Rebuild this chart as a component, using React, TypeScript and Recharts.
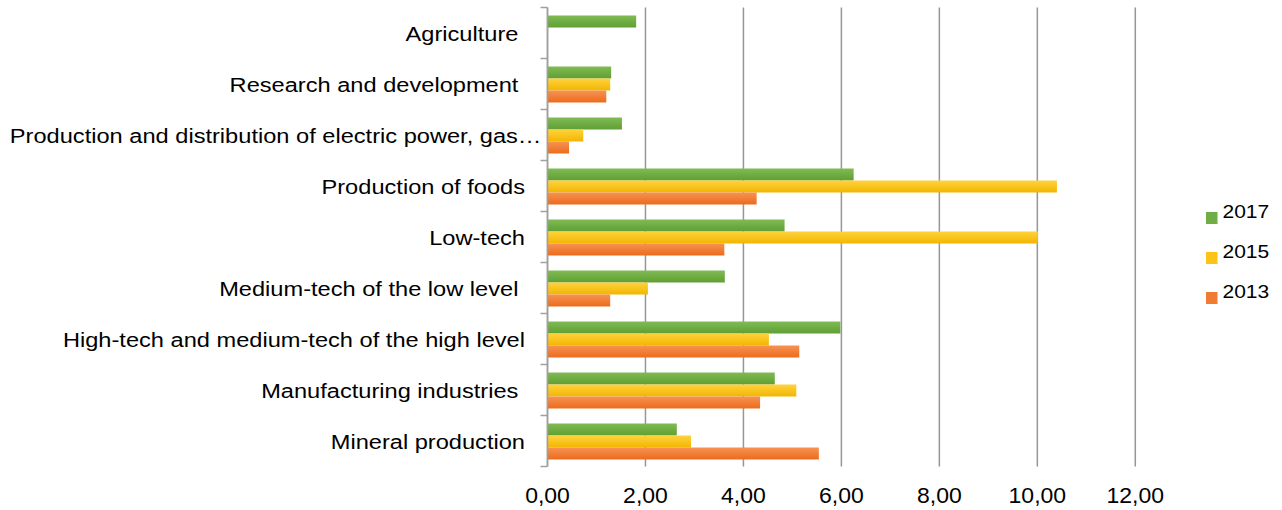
import React from "react"
import {
  BarChart,
  Bar,
  XAxis,
  YAxis,
  CartesianGrid,
} from "recharts"

const categories = [
  "Agriculture ",
  "Research and development ",
  "Production and distribution of electric power, gas…",
  "Production of foods",
  "Low-tech",
  "Medium-tech of the low level ",
  "High-tech and medium-tech of the high level",
  "Manufacturing industries ",
  "Mineral production",
]

const values2017 = [1.81, 1.3, 1.52, 6.25, 4.84, 3.62, 5.98, 4.64, 2.64]
const values2015 = [null, 1.28, 0.73, 10.4, 10.01, 2.05, 4.52, 5.08, 2.93]
const values2013 = [null, 1.2, 0.44, 4.27, 3.61, 1.28, 5.14, 4.34, 5.54]

const xTicks = [0, 2, 4, 6, 8, 10, 12]

const series = [
  { key: "y2017", name: "2017", top: "#80bb53", bottom: "#5f9f34", swatch: "#6fae45" },
  { key: "y2015", name: "2015", top: "#ffd23e", bottom: "#f2b600", swatch: "#fcc419" },
  { key: "y2013", name: "2013", top: "#f79253", bottom: "#eb6c1c", swatch: "#f07b32" },
]

const data = categories.map((name, i) => ({
  name,
  y2017: values2017[i],
  y2015: values2015[i],
  y2013: values2013[i],
}))

const FONT = "'Liberation Sans', Arial, sans-serif"
const AXIS_GRAY = "#a0a0a0"

function CategoryTick(props: any) {
  const { x, y, payload, index } = props
  const half = payload?.offset ?? 25.5
  // the truncated label runs its ellipsis up to the axis, like the original
  const endX = String(payload.value).endsWith("…") ? x - 6 : x - 22.5
  return (
    <g>
      <line x1={x - 7} x2={x} y1={y - half} y2={y - half} stroke={AXIS_GRAY} strokeWidth={1.5} />
      {index === categories.length - 1 && (
        <line x1={x - 7} x2={x} y1={y + half} y2={y + half} stroke={AXIS_GRAY} strokeWidth={1.5} />
      )}
      <text
        transform={`translate(${endX},${y + 8}) scale(1.125,1)`}
        textAnchor="end"
        fontSize={21}
        fontFamily={FONT}
        fill="#000"
        xmlSpace="preserve"
        style={{ whiteSpace: "pre" }}
      >
        {payload.value}
      </text>
    </g>
  )
}

function ValueTick(props: any) {
  const { x, y, payload } = props
  const label = Number(payload.value).toFixed(2).replace(".", ",")
  return (
    <text
      transform={`translate(${x},${y + 36}) scale(1.045,1)`}
      textAnchor="middle"
      fontSize={22}
      fontFamily={FONT}
      fill="#000"
    >
      {label}
    </text>
  )
}

function LegendBox() {
  return (
    <svg
      width={80}
      height={120}
      style={{ position: "absolute", left: 1200, top: 190 }}
    >
      {series.map((s, i) => (
        <g key={s.key} transform={`translate(0,${i * 40})`}>
          <rect x={6} y={22} width={11.5} height={12} fill={s.swatch} />
          <text
            transform="translate(22.5,28.3) scale(1.13,1)"
            fontSize={18.6}
            fontFamily={FONT}
            fill="#000"
          >
            {s.name}
          </text>
        </g>
      ))}
    </svg>
  )
}

export default function App() {
  return (
    <div
      style={{
        position: "absolute",
        left: 0,
        top: 0,
        width: 1282,
        height: 510,
        background: "#fff",
      }}
    >
      <BarChart
        width={1282}
        height={510}
        data={data}
        layout="vertical"
        margin={{ top: 7.5, right: 146.7, bottom: 13.5, left: 0 }}
        barSize={12}
        barGap={0}
      >
        <defs>
          {series.map((s) => (
            <linearGradient key={s.key} id={`grad-${s.key}`} x1="0" y1="0" x2="0" y2="1">
              <stop offset="0%" stopColor={s.top} />
              <stop offset="100%" stopColor={s.bottom} />
            </linearGradient>
          ))}
        </defs>
        <CartesianGrid horizontal={false} stroke="#969696" strokeWidth={1.5} />
        <XAxis
          type="number"
          domain={[0, 12]}
          ticks={xTicks}
          axisLine={false}
          tickLine={false}
          tickSize={0}
          tickMargin={0}
          height={30}
          tick={<ValueTick />}
          interval={0}
        />
        <YAxis
          type="category"
          dataKey="name"
          width={547.5}
          axisLine={{ stroke: AXIS_GRAY, strokeWidth: 1.5 }}
          tickLine={false}
          tickSize={0}
          tickMargin={0}
          tick={<CategoryTick />}
          interval={0}
        />
        {series.map((s) => (
          <Bar
            key={s.key}
            dataKey={s.key}
            name={s.name}
            fill={`url(#grad-${s.key})`}
            isAnimationActive={false}
          />
        ))}
      </BarChart>
      <LegendBox />
    </div>
  )
}
